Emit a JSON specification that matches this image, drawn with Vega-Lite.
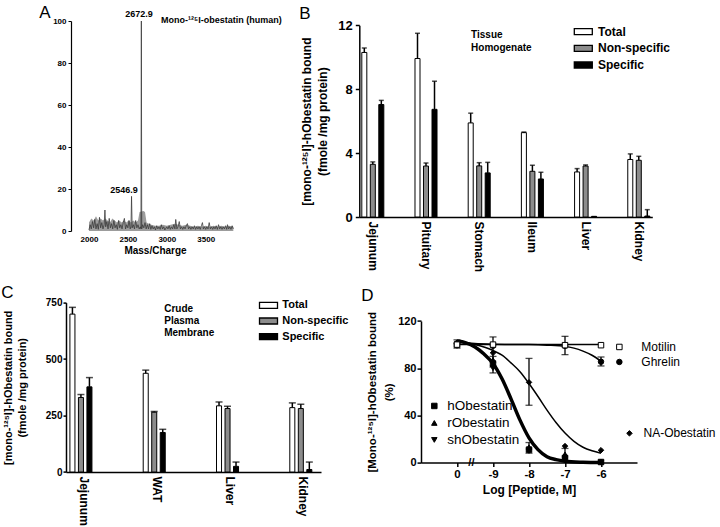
{
"$schema":"https://vega.github.io/schema/vega-lite/v6.json",
"padding":{"left":1,"top":3,"right":0,"bottom":0},
"config":{
 "font":"Liberation Sans",
 "view":{"stroke":null},
 "axis":{"domainColor":"black","tickColor":"black","labelColor":"black","titleColor":"black","grid":false,"labelFont":"Liberation Sans","titleFont":"Liberation Sans","labelOverlap":false,"labelBound":false},
 "title":{"fontSize":17,"fontWeight":"normal","anchor":"start","frame":"group","color":"black","font":"Liberation Sans","baseline":"middle","offset":0},
 "text":{"color":"black","font":"Liberation Sans"}
},
"datasets":{
 "a_line":[{"m":2000,"v":0.5},{"m":2015,"v":3},{"m":2030,"v":1},{"m":2045,"v":4.5},{"m":2060,"v":1.5},{"m":2075,"v":5.5},{"m":2090,"v":1},{"m":2105,"v":3.5},{"m":2120,"v":0.8},{"m":2135,"v":6.5},{"m":2150,"v":1.5},{"m":2165,"v":4},{"m":2180,"v":1},{"m":2195,"v":3},{"m":2205,"v":10},{"m":2215,"v":2},{"m":2230,"v":4.5},{"m":2245,"v":1},{"m":2260,"v":6},{"m":2275,"v":1.5},{"m":2290,"v":3.5},{"m":2305,"v":1},{"m":2320,"v":5},{"m":2335,"v":1.5},{"m":2350,"v":3},{"m":2365,"v":0.8},{"m":2380,"v":5},{"m":2395,"v":1.5},{"m":2410,"v":3},{"m":2425,"v":1},{"m":2440,"v":4},{"m":2455,"v":6},{"m":2470,"v":1},{"m":2485,"v":3},{"m":2500,"v":1.5},{"m":2515,"v":5},{"m":2530,"v":1},{"m":2540,"v":2},{"m":2547,"v":16.5},{"m":2555,"v":1.5},{"m":2570,"v":3},{"m":2585,"v":1},{"m":2600,"v":5},{"m":2615,"v":1.5},{"m":2630,"v":3},{"m":2645,"v":1},{"m":2660,"v":2},{"m":2668,"v":1},{"m":2673,"v":100},{"m":2678,"v":1},{"m":2690,"v":3},{"m":2705,"v":1.5},{"m":2720,"v":4},{"m":2735,"v":1},{"m":2750,"v":3},{"m":2765,"v":1},{"m":2780,"v":3.5},{"m":2795,"v":0.8},{"m":2810,"v":2.5},{"m":2825,"v":1},{"m":2840,"v":2},{"m":2855,"v":0.5},{"m":2870,"v":2.5},{"m":2885,"v":1},{"m":2900,"v":2},{"m":2915,"v":0.8},{"m":2930,"v":3},{"m":2945,"v":1},{"m":2960,"v":2},{"m":2975,"v":0.5},{"m":3000,"v":2},{"m":3015,"v":1},{"m":3030,"v":2.5},{"m":3045,"v":0.8},{"m":3060,"v":2},{"m":3075,"v":1},{"m":3090,"v":3},{"m":3105,"v":1},{"m":3115,"v":5.5},{"m":3130,"v":1},{"m":3145,"v":2},{"m":3160,"v":4.5},{"m":3175,"v":1},{"m":3190,"v":2},{"m":3205,"v":0.8},{"m":3220,"v":2},{"m":3235,"v":1},{"m":3250,"v":2.5},{"m":3265,"v":3.5},{"m":3280,"v":1},{"m":3295,"v":2},{"m":3310,"v":0.8},{"m":3325,"v":2},{"m":3340,"v":1},{"m":3355,"v":2.5},{"m":3370,"v":0.8},{"m":3385,"v":2},{"m":3400,"v":1},{"m":3415,"v":2},{"m":3430,"v":0.8},{"m":3445,"v":2.5},{"m":3458,"v":4},{"m":3470,"v":1},{"m":3485,"v":2},{"m":3500,"v":0.8},{"m":3515,"v":2},{"m":3530,"v":1},{"m":3545,"v":4},{"m":3560,"v":1},{"m":3575,"v":2},{"m":3590,"v":0.8},{"m":3605,"v":2},{"m":3620,"v":1},{"m":3635,"v":2.5},{"m":3650,"v":0.8},{"m":3665,"v":3},{"m":3680,"v":1},{"m":3695,"v":2},{"m":3710,"v":0.8},{"m":3725,"v":2},{"m":3740,"v":1},{"m":3755,"v":2.5},{"m":3770,"v":0.8},{"m":3780,"v":3},{"m":3795,"v":1},{"m":3810,"v":2},{"m":3825,"v":0.8},{"m":3840,"v":2.5},{"m":3855,"v":1}],
 "a_area":[{"m":2000,"v":4},{"m":2030,"v":6},{"m":2060,"v":5},{"m":2090,"v":7},{"m":2120,"v":5},{"m":2150,"v":6},{"m":2180,"v":5},{"m":2210,"v":6},{"m":2240,"v":5},{"m":2270,"v":4},{"m":2300,"v":6},{"m":2330,"v":5},{"m":2360,"v":4},{"m":2390,"v":5},{"m":2420,"v":4},{"m":2450,"v":5},{"m":2480,"v":4},{"m":2510,"v":5},{"m":2540,"v":4},{"m":2570,"v":5},{"m":2600,"v":4},{"m":2630,"v":5},{"m":2650,"v":9},{"m":2700,"v":9.5},{"m":2720,"v":9},{"m":2740,"v":4},{"m":2770,"v":3.5},{"m":2800,"v":3},{"m":2850,"v":2.5},{"m":2900,"v":2.5},{"m":2950,"v":3},{"m":3000,"v":2.5},{"m":3050,"v":3},{"m":3100,"v":3.5},{"m":3150,"v":3},{"m":3200,"v":2.5},{"m":3250,"v":3},{"m":3300,"v":2.5},{"m":3350,"v":2},{"m":3400,"v":2.5},{"m":3450,"v":2},{"m":3500,"v":2.5},{"m":3550,"v":2},{"m":3600,"v":2.5},{"m":3650,"v":2},{"m":3700,"v":2.5},{"m":3750,"v":2},{"m":3800,"v":2.5},{"m":3855,"v":2}],
 "a_txt":[{"m":2643,"v":103.5,"t":"2672.9"},{"m":2450,"v":19.4,"t":"2546.9"}],
 "a_txt2":[{"m":2925,"v":100.7,"t":"Mono-¹²⁵I-obestatin (human)"}],
 "b":[
  {"tissue":"Jejunum","type":"Total","value":10.3,"hi":10.58},
  {"tissue":"Jejunum","type":"Non-specific","value":3.3,"hi":3.45},
  {"tissue":"Jejunum","type":"Specific","value":7.04,"hi":7.3},
  {"tissue":"Pituitary","type":"Total","value":9.92,"hi":11.5},
  {"tissue":"Pituitary","type":"Non-specific","value":3.19,"hi":3.38},
  {"tissue":"Pituitary","type":"Specific","value":6.74,"hi":8.5},
  {"tissue":"Stomach","type":"Total","value":5.89,"hi":6.5},
  {"tissue":"Stomach","type":"Non-specific","value":3.2,"hi":3.4},
  {"tissue":"Stomach","type":"Specific","value":2.76,"hi":3.42},
  {"tissue":"Ileum","type":"Total","value":5.28,"hi":5.32},
  {"tissue":"Ileum","type":"Non-specific","value":2.86,"hi":3.24},
  {"tissue":"Ileum","type":"Specific","value":2.38,"hi":2.8},
  {"tissue":"Liver","type":"Total","value":2.82,"hi":3.03},
  {"tissue":"Liver","type":"Non-specific","value":3.19,"hi":3.26},
  {"tissue":"Liver","type":"Specific","value":0.03,"hi":0.03},
  {"tissue":"Kidney","type":"Total","value":3.6,"hi":3.95},
  {"tissue":"Kidney","type":"Non-specific","value":3.55,"hi":3.8},
  {"tissue":"Kidney","type":"Specific","value":0.06,"hi":0.46}],
 "b_txt":[{"tissue":"Stomach","t":"Tissue","value":11.37},{"tissue":"Stomach","t":"Homogenate","value":10.58}],
 "c":[
  {"tissue":"Jejunum","type":"Total","value":699,"hi":729},
  {"tissue":"Jejunum","type":"Non-specific","value":330,"hi":343},
  {"tissue":"Jejunum","type":"Specific","value":377,"hi":418},
  {"tissue":"WAT","type":"Total","value":437,"hi":451},
  {"tissue":"WAT","type":"Non-specific","value":265,"hi":268},
  {"tissue":"WAT","type":"Specific","value":175,"hi":189},
  {"tissue":"Liver","type":"Total","value":293,"hi":310},
  {"tissue":"Liver","type":"Non-specific","value":281,"hi":291},
  {"tissue":"Liver","type":"Specific","value":25,"hi":44},
  {"tissue":"Kidney","type":"Total","value":285,"hi":306},
  {"tissue":"Kidney","type":"Non-specific","value":281,"hi":300},
  {"tissue":"Kidney","type":"Specific","value":11,"hi":44}],
 "c_txt":[{"tissue":"WAT","t":"Crude","value":720},{"tissue":"WAT","t":"Plasma","value":667},{"tissue":"WAT","t":"Membrane","value":615}],
 "d_thick":[{"x":-10,"y":103},{"x":-9.75,"y":101.5},{"x":-9.5,"y":98},{"x":-9.25,"y":92},{"x":-9,"y":84},{"x":-8.75,"y":71},{"x":-8.5,"y":54},{"x":-8.25,"y":36},{"x":-8,"y":21},{"x":-7.75,"y":11},{"x":-7.5,"y":5},{"x":-7.25,"y":2.5},{"x":-7,"y":1.2},{"x":-6.5,"y":0.3},{"x":-6,"y":0}],
 "d_thin":[
  {"c":"NA","x":-10,"y":103},{"c":"NA","x":-9.5,"y":100},{"c":"NA","x":-9,"y":95},{"c":"NA","x":-8.75,"y":91},{"c":"NA","x":-8.5,"y":84.5},{"c":"NA","x":-8.25,"y":77},{"c":"NA","x":-8,"y":67},{"c":"NA","x":-7.75,"y":56},{"c":"NA","x":-7.5,"y":44.5},{"c":"NA","x":-7.25,"y":34},{"c":"NA","x":-7,"y":25},{"c":"NA","x":-6.75,"y":18},{"c":"NA","x":-6.5,"y":13},{"c":"NA","x":-6.25,"y":10},{"c":"NA","x":-6,"y":8},
  {"c":"Ghrelin","x":-10,"y":102},{"c":"Ghrelin","x":-9,"y":100.3},{"c":"Ghrelin","x":-8,"y":100},{"c":"Ghrelin","x":-7.5,"y":99.5},{"c":"Ghrelin","x":-7,"y":98.5},{"c":"Ghrelin","x":-6.75,"y":97},{"c":"Ghrelin","x":-6.5,"y":94.5},{"c":"Ghrelin","x":-6.25,"y":91},{"c":"Ghrelin","x":-6,"y":86},
  {"c":"Motilin","x":-10,"y":100},{"c":"Motilin","x":-6,"y":100}],
 "d_pts":[
  {"s":"hObestatin","x":-10,"y":100},{"s":"hObestatin","x":-9,"y":84},{"s":"hObestatin","x":-8,"y":11},{"s":"hObestatin","x":-7,"y":4},{"s":"hObestatin","x":-6,"y":0.5},
  {"s":"rObestatin","x":-10,"y":102},{"s":"rObestatin","x":-9,"y":87},{"s":"rObestatin","x":-8,"y":13},{"s":"rObestatin","x":-7,"y":7},{"s":"rObestatin","x":-6,"y":1},
  {"s":"shObestatin","x":-10,"y":99},{"s":"shObestatin","x":-9,"y":80},{"s":"shObestatin","x":-8,"y":10},{"s":"shObestatin","x":-7,"y":2},{"s":"shObestatin","x":-6,"y":0},
  {"s":"NA-Obestatin","x":-10,"y":101},{"s":"NA-Obestatin","x":-9,"y":93},{"s":"NA-Obestatin","x":-8,"y":68},{"s":"NA-Obestatin","x":-7,"y":14},{"s":"NA-Obestatin","x":-6,"y":10.5},
  {"s":"Ghrelin","x":-10,"y":101},{"s":"Ghrelin","x":-9,"y":99},{"s":"Ghrelin","x":-7,"y":99},{"s":"Ghrelin","x":-6,"y":85.5},
  {"s":"Motilin","x":-10,"y":100},{"s":"Motilin","x":-9,"y":100},{"s":"Motilin","x":-7,"y":99.5},{"s":"Motilin","x":-6,"y":99.5},
  {"s":"hObestatin","x":-10.63,"y":48},{"s":"rObestatin","x":-10.63,"y":33.6},{"s":"shObestatin","x":-10.63,"y":19.2},
  {"s":"Motilin","x":-5.49,"y":98},{"s":"Ghrelin","x":-5.49,"y":85.3},{"s":"NA-Obestatin","x":-5.21,"y":24.8}],
 "d_err":[{"x":-10,"y":97,"hi":104},{"x":-9,"y":81,"hi":106.5},{"x":-9,"y":76,"hi":90},{"x":-8,"y":48.6,"hi":88.3},{"x":-8,"y":8,"hi":17},{"x":-7,"y":91.5,"hi":107},{"x":-7,"y":1,"hi":12},{"x":-6,"y":81.9,"hi":89.5}],
 "d_leg_left":[{"t":"hObestatin","x":-10.27,"y":48},{"t":"rObestatin","x":-10.27,"y":33.6},{"t":"shObestatin","x":-10.27,"y":19.2}],
 "d_leg_right":[{"t":"Motilin","x":-4.88,"y":98},{"t":"Ghrelin","x":-4.88,"y":85.3},{"t":"NA-Obestatin","x":-4.82,"y":24.8}],
 "d_brk":[{"t":"//","x":-9.6,"y":0}]
},
"columns":2,
"bounds":"flush",
"spacing":{"row":71.6,"column":38.3},
"resolve":{"scale":{"fill":"independent","shape":"independent"},"legend":{"fill":"independent"}},
"concat":[
  {"width":193,"height":210,
   "title":{"text":"A","dx":-26.7,"dy":16.3},
   "layer":[
    {"data":{"name":"a_area"},"mark":{"type":"area","color":"#9c9c9c"},
     "encoding":{
      "x":{"field":"m","type":"quantitative","scale":{"domain":[1769,3928],"range":[5,173],"nice":false,"zero":false},
           "axis":{"values":[2000,2500,3000,3500],"format":"d","domain":false,"ticks":false,"labelFontSize":8,"labelFontWeight":"bold","labelPadding":4,"title":"Mass/Charge","titleFontSize":10,"titleFontWeight":"bold","titlePadding":2}},
      "y":{"field":"v","type":"quantitative","scale":{"domain":[0,100],"nice":false},
           "axis":{"values":[0,20,40,60,80,100],"labelFontSize":8,"labelFontWeight":"bold","tickSize":3,"tickWidth":1,"labelPadding":2,"domainWidth":1.2,"offset":-5,"title":null}}}},
    {"data":{"name":"a_line"},"mark":{"type":"line","color":"#3a3a3a","strokeWidth":0.8},
     "encoding":{"x":{"field":"m","type":"quantitative"},"y":{"field":"v","type":"quantitative"}}},
    {"data":{"name":"a_txt"},"mark":{"type":"text","fontSize":9,"fontWeight":"bold","align":"center","baseline":"middle"},
     "encoding":{"x":{"field":"m","type":"quantitative"},"y":{"field":"v","type":"quantitative"},"text":{"field":"t"}}},
    {"data":{"name":"a_txt2"},"mark":{"type":"text","fontSize":9,"fontWeight":"bold","align":"left","baseline":"middle"},
     "encoding":{"x":{"field":"m","type":"quantitative"},"y":{"field":"v","type":"quantitative"},"text":{"field":"t"}}}
   ]},
  {"width":293,"height":196,
   "title":{"text":"B","dx":-60,"dy":7.5},
   "layer":[
    {"data":{"name":"b"},"mark":{"type":"bar","stroke":"black","strokeWidth":1},
     "encoding":{
      "x":{"field":"tissue","type":"nominal","sort":null,"scale":{"paddingInner":0.586,"paddingOuter":0.047},
           "axis":{"title":null,"labelAngle":90,"labelAlign":"left","labelBaseline":"middle","labelFontSize":12,"labelFontWeight":"bold","ticks":false,"domainWidth":1.5,"labelPadding":4}},
      "xOffset":{"field":"type","type":"nominal","sort":["Total","Non-specific","Specific"],"scale":{"paddingInner":0.41,"paddingOuter":0}},
      "y":{"field":"value","type":"quantitative","scale":{"domain":[0,12],"range":[196,4.3],"nice":false},
           "axis":{"values":[0,4,8,12],"labelFontSize":13,"labelFontWeight":"bold","tickSize":4,"tickWidth":1.5,"labelPadding":3,"domainWidth":1.5,
                   "title":["[mono-¹²⁵I]-hObestatin bound","(fmole /mg protein)"],"titleFontSize":12,"titleFontWeight":"bold","titlePadding":8,"titleLineHeight":16}},
      "fill":{"field":"type","type":"nominal","scale":{"domain":["Total","Non-specific","Specific"],"range":["white","#8c8c8c","black"]},
              "legend":{"orient":"none","legendX":217,"legendY":3.6,"title":null,"symbolType":"M-1.5,-0.5H1.5V0.5H-1.5Z","symbolSize":144,"symbolStrokeColor":"black","symbolStrokeWidth":1.3,"labelFontSize":12,"labelFontWeight":"bold","labelColor":"black","labelOffset":7.7,"rowPadding":3.7,"padding":0}}}},
    {"data":{"name":"b"},"mark":{"type":"rule","color":"black","strokeWidth":1.5},
     "encoding":{"x":{"field":"tissue","type":"nominal","sort":null},"xOffset":{"field":"type","type":"nominal","sort":["Total","Non-specific","Specific"]},
                 "y":{"field":"value","type":"quantitative"},"y2":{"field":"hi"}}},
    {"data":{"name":"b"},"mark":{"type":"tick","orient":"horizontal","color":"black","size":5,"thickness":1.5},
     "encoding":{"x":{"field":"tissue","type":"nominal","sort":null},"xOffset":{"field":"type","type":"nominal","sort":["Total","Non-specific","Specific"]},
                 "y":{"field":"hi","type":"quantitative"}}},
    {"data":{"name":"b_txt"},"mark":{"type":"text","fontSize":10,"fontWeight":"bold","align":"left","baseline":"middle"},
     "encoding":{"x":{"field":"tissue","type":"nominal","sort":null,"bandPosition":0.13},"y":{"field":"value","type":"quantitative"},"text":{"field":"t"}}}
   ]},
  {"width":255,"height":169.4,
   "title":{"text":"C","dx":-64.7,"dy":8.2},
   "layer":[
    {"data":{"name":"c"},"mark":{"type":"bar","stroke":"black","strokeWidth":1},
     "encoding":{
      "x":{"field":"tissue","type":"nominal","sort":null,"scale":{"paddingInner":0.628,"paddingOuter":0.0535},
           "axis":{"title":null,"labelAngle":90,"labelAlign":"left","labelBaseline":"middle","labelFontSize":12,"labelFontWeight":"bold","ticks":false,"domainWidth":1.5,"labelPadding":4}},
      "xOffset":{"field":"type","type":"nominal","sort":["Total","Non-specific","Specific"],"scale":{"paddingInner":0.27,"paddingOuter":0}},
      "y":{"field":"value","type":"quantitative","scale":{"domain":[0,750],"nice":false},
           "axis":{"values":[0,250,500,750],"labelFontSize":10,"labelFontWeight":"bold","tickSize":3,"tickWidth":1.5,"labelPadding":1,"domainWidth":1.5,
                   "title":["[mono-¹²⁵I]-hObestatin bound","(fmole /mg protein)"],"titleFontSize":11,"titleFontWeight":"bold","titlePadding":18,"titleLineHeight":14}},
      "fill":{"field":"type","type":"nominal","scale":{"domain":["Total","Non-specific","Specific"],"range":["white","#8c8c8c","black"]},
              "legend":{"orient":"none","legendX":195.5,"legendY":-4.3,"title":null,"symbolType":"M-1.5,-0.5H1.5V0.5H-1.5Z","symbolSize":144,"symbolStrokeColor":"black","symbolStrokeWidth":1.3,"labelFontSize":11,"labelFontWeight":"bold","labelColor":"black","labelOffset":6.8,"rowPadding":2.7,"padding":0}}}},
    {"data":{"name":"c"},"mark":{"type":"rule","color":"black","strokeWidth":1.5},
     "encoding":{"x":{"field":"tissue","type":"nominal","sort":null},"xOffset":{"field":"type","type":"nominal","sort":["Total","Non-specific","Specific"]},
                 "y":{"field":"value","type":"quantitative"},"y2":{"field":"hi"}}},
    {"data":{"name":"c"},"mark":{"type":"tick","orient":"horizontal","color":"black","size":7,"thickness":1.5},
     "encoding":{"x":{"field":"tissue","type":"nominal","sort":null},"xOffset":{"field":"type","type":"nominal","sort":["Total","Non-specific","Specific"]},
                 "y":{"field":"hi","type":"quantitative"}}},
    {"data":{"name":"c_txt"},"mark":{"type":"text","fontSize":10,"fontWeight":"bold","align":"left","baseline":"middle"},
     "encoding":{"x":{"field":"tissue","type":"nominal","sort":null,"bandPosition":0.77},"y":{"field":"value","type":"quantitative"},"text":{"field":"t"}}}
   ]},
  {"width":277.7,"height":160,
   "title":{"text":"D","dx":2,"dy":6},
   "layer":[
    {"data":{"name":"d_thin"},"mark":{"type":"line","color":"black","strokeWidth":1.5,"interpolate":"monotone"},
     "encoding":{
      "x":{"field":"x","type":"quantitative","scale":{"domain":[-11,-5],"range":[61.7,277.7],"nice":false,"zero":false},
           "axis":{"values":[-10,-9,-8,-7,-6],"labelExpr":"datum.value == -10 ? '0' : '-' + (-datum.value)","labelFontSize":11.5,"labelFontWeight":"bold","tickSize":4,"tickWidth":1.5,"labelPadding":2,"domainWidth":1.5,
                   "title":"Log [Peptide,  M]","titleFontSize":12,"titleFontWeight":"bold","titlePadding":4}},
      "y":{"field":"y","type":"quantitative","scale":{"domain":[0,120],"range":[160,18.4],"nice":false},
           "axis":{"values":[0,20,40,60,80,100,120],"offset":-61.7,"labelFontSize":11,"labelFontWeight":"bold","tickSize":4,"tickWidth":1.5,"labelPadding":1,"domainWidth":1.5,
                   "title":["[Mono-¹²⁵I]-hObestatin bound","(%)"],"titleFontSize":11.5,"titleFontWeight":"bold","titlePadding":3,"titleLineHeight":17}},
      "detail":{"field":"c"}}},
    {"data":{"name":"d_thick"},"mark":{"type":"line","color":"black","strokeWidth":3.5,"interpolate":"monotone"},
     "encoding":{"x":{"field":"x","type":"quantitative"},"y":{"field":"y","type":"quantitative"}}},
    {"data":{"name":"d_err"},"mark":{"type":"rule","color":"black","strokeWidth":1.3},
     "encoding":{"x":{"field":"x","type":"quantitative"},"y":{"field":"y","type":"quantitative"},"y2":{"field":"hi"}}},
    {"data":{"name":"d_err"},"mark":{"type":"tick","orient":"horizontal","color":"black","size":7,"thickness":1.3},
     "encoding":{"x":{"field":"x","type":"quantitative"},"y":{"field":"y","type":"quantitative"}}},
    {"data":{"name":"d_err"},"mark":{"type":"tick","orient":"horizontal","color":"black","size":7,"thickness":1.3},
     "encoding":{"x":{"field":"x","type":"quantitative"},"y":{"field":"hi","type":"quantitative"}}},
    {"data":{"name":"d_pts"},"mark":{"type":"point","filled":true,"stroke":"black","strokeWidth":1,"size":30,"opacity":1},
     "encoding":{"x":{"field":"x","type":"quantitative"},"y":{"field":"y","type":"quantitative"},
                 "shape":{"field":"s","type":"nominal","scale":{"domain":["hObestatin","rObestatin","shObestatin","NA-Obestatin","Ghrelin","Motilin"],"range":["square","triangle-up","triangle-down","diamond","circle","square"]},"legend":null},
                 "fill":{"field":"s","type":"nominal","scale":{"domain":["hObestatin","rObestatin","shObestatin","NA-Obestatin","Ghrelin","Motilin"],"range":["black","black","black","black","black","white"]},"legend":null}}},
    {"data":{"name":"d_leg_left"},"mark":{"type":"text","fontSize":13.5,"align":"left","baseline":"middle"},
     "encoding":{"x":{"field":"x","type":"quantitative"},"y":{"field":"y","type":"quantitative"},"text":{"field":"t"}}},
    {"data":{"name":"d_leg_right"},"mark":{"type":"text","fontSize":12,"align":"left","baseline":"middle"},
     "encoding":{"x":{"field":"x","type":"quantitative"},"y":{"field":"y","type":"quantitative"},"text":{"field":"t"}}},
    {"data":{"name":"d_brk"},"mark":{"type":"text","fontSize":11,"fontWeight":"bold","align":"center","baseline":"middle"},
     "encoding":{"x":{"field":"x","type":"quantitative"},"y":{"field":"y","type":"quantitative"},"text":{"field":"t"}}}
   ]}
]
}
